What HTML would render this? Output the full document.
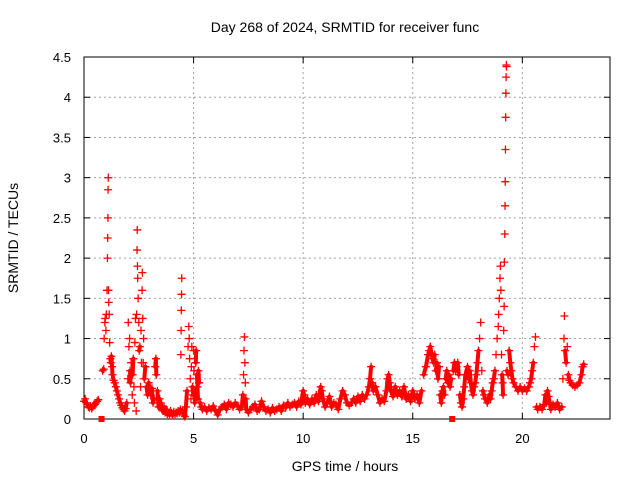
<!DOCTYPE html>
<html><head><meta charset="utf-8"><style>
body{margin:0;background:#fff;}
svg{display:block;font-family:"Liberation Sans",sans-serif;}
</style></head><body>
<svg id="chart" width="640" height="480">
<text x="345" y="32" font-size="14" text-anchor="middle">Day 268 of 2024, SRMTID for receiver func</text>
<text x="345" y="471" font-size="14" text-anchor="middle">GPS time / hours</text>
<text x="18" y="238" font-size="14" text-anchor="middle" transform="rotate(-90 18 238)">SRMTID / TECUs</text>
<g id="grid"></g><g id="axes"></g><g id="marks"></g>
</svg>
<script>
const xTicks=[0,5,10,15,20];
const yTicks=[0,0.5,1,1.5,2,2.5,3,3.5,4,4.5];
const yTickLabels=["0","0.5","1","1.5","2","2.5","3","3.5","4","4.5"];
const hours=[0,.05,.1,.15,.2,.25,.3,.35,.4,.45,.5,.55,.6,.65,.8,.85,.9,.92,.95,.97,1,1.02,1.05,1.07,1.08,1.09,1.1,1.11,1.12,1.13,1.15,1.17,1.2,1.22,1.25,1.28,1.3,1.35,1.4,1.45,1.5,1.55,1.6,1.65,1.7,1.75,1.8,1.85,1.9,1.95,2,2.02,2.05,2.08,2.1,2.12,2.15,2.2,2.22,2.25,2.28,2.3,2.32,2.35,2.38,2.4,2.42,2.43,2.44,2.45,2.47,2.5,2.52,2.55,2.58,2.6,2.62,2.65,2.66,2.68,2.7,2.72,2.75,2.8,2.85,2.9,2.95,3,3.05,3.1,3.15,3.2,3.25,3.28,3.3,3.35,3.4,3.45,3.5,3.55,3.6,3.65,3.7,3.75,3.8,3.85,3.9,3.95,4,4.05,4.1,4.15,4.2,4.25,4.3,4.35,4.4,4.42,4.43,4.44,4.45,4.46,4.5,4.55,4.6,4.65,4.7,4.75,4.78,4.8,4.82,4.85,4.88,4.9,4.92,4.95,4.98,5,5.02,5.05,5.08,5.1,5.12,5.15,5.18,5.2,5.22,5.25,5.3,5.35,5.4,5.5,5.6,5.7,5.8,5.9,6,6.1,6.2,6.3,6.4,6.5,6.6,6.7,6.8,6.9,7,7.1,7.2,7.25,7.28,7.3,7.32,7.34,7.36,7.38,7.4,7.5,7.6,7.7,7.8,7.9,8,8.1,8.2,8.3,8.4,8.5,8.6,8.7,8.8,8.9,9,9.1,9.2,9.3,9.4,9.5,9.6,9.7,9.8,9.9,10,10.05,10.1,10.2,10.3,10.4,10.5,10.6,10.7,10.8,10.85,10.9,11,11.1,11.2,11.3,11.4,11.5,11.6,11.7,11.8,11.9,12,12.1,12.2,12.3,12.4,12.5,12.6,12.7,12.8,12.9,13,13.05,13.1,13.15,13.2,13.3,13.4,13.5,13.6,13.7,13.8,13.85,13.9,13.95,14,14.1,14.2,14.3,14.4,14.5,14.6,14.7,14.8,14.9,15,15.1,15.2,15.3,15.4,15.5,15.6,15.7,15.75,15.8,15.85,15.9,15.95,16,16.05,16.1,16.15,16.2,16.25,16.3,16.35,16.4,16.45,16.5,16.55,16.6,16.65,16.7,16.75,16.8,16.85,16.9,16.95,17,17.05,17.1,17.15,17.2,17.25,17.3,17.35,17.4,17.5,17.55,17.6,17.65,17.7,17.75,17.8,17.85,17.9,17.95,18,18.05,18.1,18.15,18.2,18.25,18.3,18.4,18.5,18.55,18.6,18.65,18.7,18.75,18.8,18.85,18.9,18.92,18.95,18.98,19,19.02,19.05,19.08,19.1,19.12,19.15,19.17,19.18,19.2,19.21,19.22,19.23,19.24,19.25,19.26,19.27,19.28,19.3,19.35,19.4,19.45,19.5,19.55,19.6,19.7,19.8,19.9,20,20.1,20.2,20.3,20.35,20.4,20.45,20.5,20.55,20.6,20.65,20.7,20.8,20.9,21,21.05,21.1,21.15,21.2,21.25,21.3,21.4,21.5,21.6,21.7,21.8,21.85,21.9,21.92,21.95,22,22.05,22.1,22.15,22.2,22.3,22.4,22.5,22.6,22.7,22.75,22.8];
const tecu=[.22,.25,.2,.18,.15,.14,.16,.13,.15,.17,.18,.2,.22,.24,0,.6,.62,1,1.2,1.25,1.1,1.3,1.6,2,2.25,2.5,2.85,3,1.6,1.45,1.3,.95,.75,.7,.78,.65,.55,.48,.45,.4,.35,.3,.25,.2,.17,.14,.12,.1,.13,.2,.5,1.2,.9,1,.6,.45,.7,.3,.55,.75,.4,.2,.95,1.25,.1,1.3,2.1,2.35,1.9,1.75,1.5,1.2,.85,.9,.4,1.1,.7,1.6,1.82,1.25,.7,1,.5,.65,.4,.3,.45,.35,.3,.38,.2,.25,.65,.75,.55,.35,.15,.25,.2,.12,.1,.15,.08,.12,.06,.08,.05,.1,.07,.05,.09,.06,.08,.07,.1,.08,.12,.8,1.1,1.35,1.55,1.75,.1,.05,.03,.15,.35,.9,1.15,1,.75,.5,.25,.65,.9,.4,.3,.85,.6,.2,.35,.7,.85,.55,.4,.25,.6,.45,.2,.15,.12,.15,.1,.14,.12,.16,.1,.05,.12,.15,.18,.12,.2,.18,.15,.2,.17,.12,.15,.3,.55,.85,1.02,.7,.45,.25,.12,.08,.12,.15,.18,.1,.12,.22,.15,.1,.12,.08,.14,.1,.12,.15,.1,.17,.14,.2,.15,.18,.2,.15,.22,.18,.35,.3,.2,.25,.18,.25,.2,.3,.22,.4,.35,.25,.15,.2,.28,.15,.2,.18,.12,.25,.35,.3,.2,.17,.2,.25,.2,.28,.22,.3,.25,.3,.4,.5,.65,.45,.35,.4,.3,.2,.25,.22,.35,.5,.55,.45,.35,.28,.4,.3,.35,.28,.4,.25,.3,.22,.35,.25,.3,.2,.35,.55,.65,.8,.85,.9,.82,.75,.7,.8,.6,.7,.5,.65,.3,.2,.35,.4,.3,.5,.6,.45,.55,.4,.5,0,.6,.7,.6,.65,.7,.55,.3,.2,.15,.25,.4,.55,.65,.5,.6,.45,.35,.3,.4,.45,.55,.7,.85,1,1.2,.6,.35,.3,.25,.2,.3,.25,.35,.45,.5,.6,.8,1,1.15,1.3,1.5,1.75,1.9,1.6,.8,.55,.45,.3,1.1,1.4,1.95,2.3,2.65,2.95,3.35,3.75,4.05,4.25,4.4,4.38,.6,.55,.85,.7,.6,.5,.45,.4,.35,.4,.35,.38,.35,.4,.45,.5,.6,.7,.9,1.02,.15,.12,.15,.12,.18,.3,.2,.35,.28,.2,.12,.18,.15,.2,.12,.15,.5,1,1.28,.85,.7,.9,.55,.48,.45,.42,.4,.42,.45,.55,.65,.68];
const L=84,R=610,T=57,B=419,XMAX=24,YMAX=4.5;
const xs=v=>L+(R-L)*v/XMAX, ys=v=>B-(B-T)*v/YMAX;
const NS="http://www.w3.org/2000/svg";
function mk(tag,attrs,parent){const e=document.createElementNS(NS,tag);for(const k in attrs)e.setAttribute(k,attrs[k]);parent.appendChild(e);return e;}
const grid=document.getElementById('grid'),axes=document.getElementById('axes'),marks=document.getElementById('marks');
xTicks.forEach(t=>{const x=xs(t);
 if(t>0){const g=mk('line',{x1:x,x2:x,y1:T,y2:B,stroke:'#a0a0a0','stroke-dasharray':'2,3'},grid);
 
 }
 mk('line',{x1:x,x2:x,y1:B,y2:B-6,stroke:'#000'},axes);mk('line',{x1:x,x2:x,y1:T,y2:T+6,stroke:'#000'},axes);
 const lb=mk('text',{x:x,y:443,'font-size':13,'text-anchor':'middle'},axes);lb.textContent=t;
 
 });
yTicks.forEach((t,i)=>{const y=ys(t);
 if(t>0&&t<YMAX){const g=mk('line',{x1:L,x2:R,y1:y,y2:y,stroke:'#a0a0a0','stroke-dasharray':'2,3'},grid);
 
 }
 mk('line',{x1:L,x2:L+6,y1:y,y2:y,stroke:'#000'},axes);mk('line',{x1:R,x2:R-6,y1:y,y2:y,stroke:'#000'},axes);
 const lb=mk('text',{x:71,y:y+5,'font-size':13,'text-anchor':'end'},axes);lb.textContent=yTickLabels[i];
 
 });
const frame=mk('rect',{x:L,y:T,width:R-L,height:B-T,fill:'none',stroke:'#000'},axes);


// dense low-level band: connect neighbouring low points with small changes
let d='';
for(let i=1;i<hours.length;i++){
 const a=tecu[i-1],b=tecu[i];
 if(Math.abs(b-a)<0.2&&a<0.95&&b<0.95&&a>0&&b>0&&hours[i]-hours[i-1]<0.2){
  d+=`M${xs(hours[i-1])},${ys(a)}L${xs(hours[i])},${ys(b)}`;}
}
const band=mk('path',{d:d,stroke:'#ff0000','stroke-width':4,fill:'none','stroke-linecap':'round'},marks);


hours.forEach((h,i)=>{const x=xs(h),y=ys(tecu[i]);
 if(tecu[i]===0){const s=mk('rect',{x:x-3,y:y-3,width:6,height:6,fill:'#ff0000'},marks);
  
  return;}
 const p=mk('path',{d:`M${x-4},${y}H${x+4}M${x},${y-4}V${y+4}`,stroke:'#ff0000','stroke-width':1.3},marks);
 
 });
</script>
</body></html>
